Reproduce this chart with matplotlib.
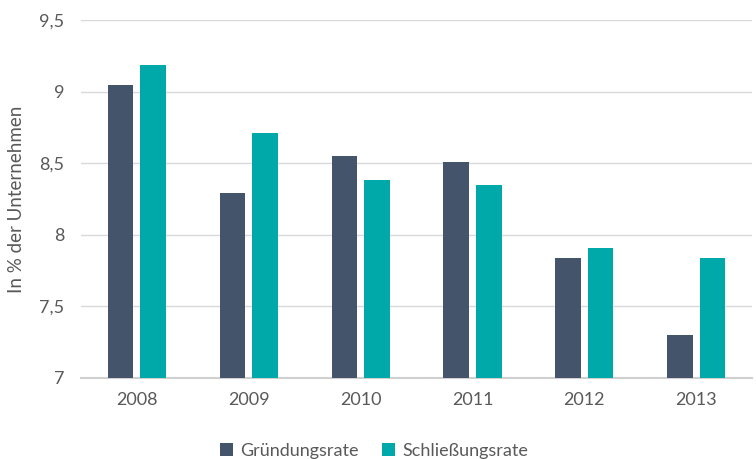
import matplotlib.pyplot as plt
import numpy as np
from matplotlib.ticker import FuncFormatter

plt.rcParams['font.family'] = ['Lato', 'DejaVu Sans']

years = ['2008', '2009', '2010', '2011', '2012', '2013']
gruendung = [9.05, 8.29, 8.55, 8.51, 7.84, 7.30]
schliessung = [9.19, 8.71, 8.38, 8.35, 7.91, 7.84]

c_g = '#44546a'
c_s = '#00a9a9'
grey = '#595959'

fig = plt.figure(figsize=(7.56, 4.59), dpi=100)
ax = fig.add_axes([0.107, 0.1765, 0.888, 0.7795])

x = np.arange(len(years))
w = 0.23
gap = 0.06
ax.bar(x - (w + gap) / 2, gruendung, w, color=c_g, label='Gründungsrate', zorder=3)
ax.bar(x + (w + gap) / 2, schliessung, w, color=c_s, label='Schließungsrate', zorder=3)

ax.set_ylim(7, 9.5)
ax.set_xlim(-0.5, len(years) - 0.5)
ax.set_yticks([7, 7.5, 8, 8.5, 9, 9.5])
ax.yaxis.set_major_formatter(FuncFormatter(lambda v, p: f'{v:g}'.replace('.', ',')))
ax.set_xticks(x)
ax.set_xticklabels(years)

ax.grid(axis='y', color='#d9d9d9', linewidth=1, zorder=0)
for s in ['top', 'right', 'left']:
    ax.spines[s].set_visible(False)
ax.spines['bottom'].set_color('#d0d0d0')
ax.spines['bottom'].set_linewidth(1.5)
ax.tick_params(axis='both', length=0, labelsize=13, colors=grey)
ax.tick_params(axis='x', pad=10)
ax.tick_params(axis='y', pad=12)

ax.set_ylabel('In % der Unternehmen', fontsize=13.5, color=grey, labelpad=10)

ax.legend(loc='upper center', bbox_to_anchor=(0.437, -0.135), ncol=2, frameon=False,
          fontsize=13, labelcolor=grey, handlelength=0.7, handleheight=0.7,
          handletextpad=0.4, columnspacing=1.3)

plt.savefig('out.png', dpi=100)
